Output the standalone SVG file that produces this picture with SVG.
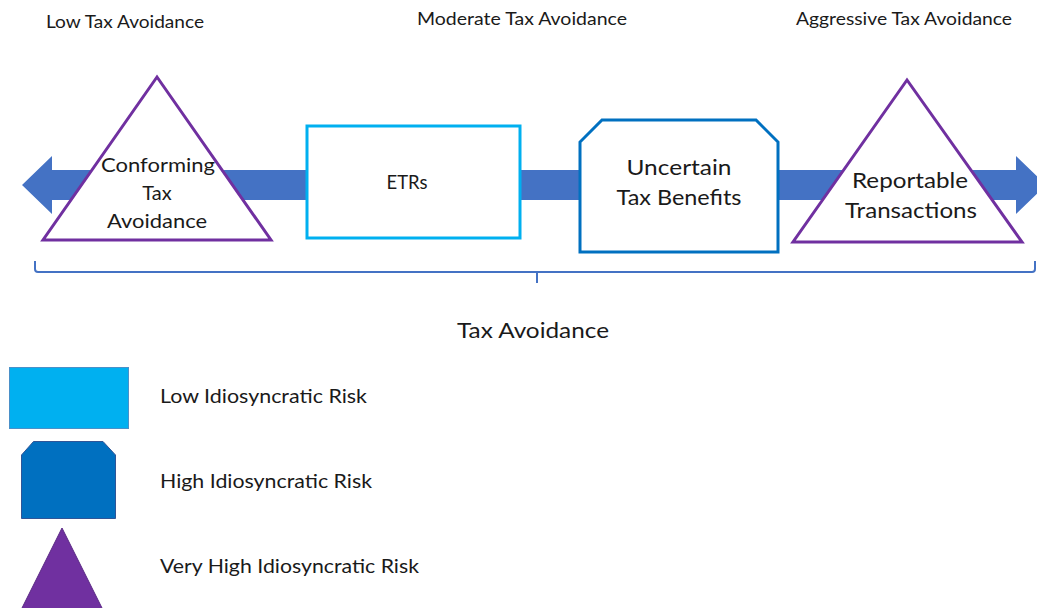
<svg xmlns="http://www.w3.org/2000/svg" width="1037" height="608" viewBox="0 0 1037 608">
  <style>
    text { font-family: Lato, "Open Sans", "Liberation Sans", sans-serif; fill: #1a1a1a; }
    .mid { text-anchor: middle; }
    .hdr { font-size: 17px; }
    .node { font-size: 20px; }
    .big { font-size: 22px; }
    .leg { font-size: 20px; }
    .tri { fill: #ffffff; stroke: #7030A0; stroke-width: 3; stroke-linejoin: miter; }
  </style>

  <rect width="1037" height="608" fill="#ffffff"/>

  <!-- scale headings -->
  <g id="headings">
    <text class="hdr" x="46" y="28" textLength="158" lengthAdjust="spacingAndGlyphs">Low Tax Avoidance</text>
    <text class="hdr" x="417" y="25" textLength="210" lengthAdjust="spacingAndGlyphs">Moderate Tax Avoidance</text>
    <text class="hdr" x="796" y="25" textLength="216" lengthAdjust="spacingAndGlyphs">Aggressive Tax Avoidance</text>
  </g>

  <!-- double-headed axis arrow and range bracket -->
  <g id="connectors">
    <path d="M22,185 L52,156 L52,170 L1016,170 L1016,156 L1046,185 L1016,214 L1016,200 L52,200 L52,214 Z" fill="#4472C4"/>
    <path d="M35,261 V269 Q35,272 38,272 H1032 Q1035,272 1035,269 V261 M537,272 V283" fill="none" stroke="#4472C4" stroke-width="2"/>
  </g>

  <g id="conforming">
    <polygon class="tri" points="157,77 43,240 271,240"/>
    <text class="node mid" x="158" y="172" textLength="114" lengthAdjust="spacingAndGlyphs">Conforming</text>
    <text class="node mid" x="157" y="200">Tax</text>
    <text class="node mid" x="157" y="228" textLength="100" lengthAdjust="spacingAndGlyphs">Avoidance</text>
  </g>

  <g id="etrs">
    <rect x="307" y="126" width="213" height="112" fill="#ffffff" stroke="#00B0F0" stroke-width="3"/>
    <text class="node mid" x="407" y="189" textLength="41" lengthAdjust="spacingAndGlyphs">ETRs</text>
  </g>

  <g id="uncertain">
    <path d="M602,120 H756 L778,142 V252 H580 V142 Z" fill="#ffffff" stroke="#0070C0" stroke-width="3" stroke-linejoin="miter"/>
    <text class="big mid" x="679" y="175" textLength="105" lengthAdjust="spacingAndGlyphs">Uncertain</text>
    <text class="big mid" x="679" y="205" textLength="125" lengthAdjust="spacingAndGlyphs">Tax Benefits</text>
  </g>

  <g id="reportable">
    <polygon class="tri" points="907,80 793,242 1022,242"/>
    <text class="big mid" x="910" y="188" textLength="116" lengthAdjust="spacingAndGlyphs">Reportable</text>
    <text class="big mid" x="911" y="218" textLength="132" lengthAdjust="spacingAndGlyphs">Transactions</text>
  </g>

  <g id="axis-label">
    <text class="big mid" x="533" y="338" textLength="152" lengthAdjust="spacingAndGlyphs">Tax Avoidance</text>
  </g>

  <!-- legend -->
  <g id="legend-low">
    <rect x="9.5" y="367.5" width="119" height="61" fill="#00B0F0" stroke="#4A90C8" stroke-width="1"/>
    <text class="leg" x="160" y="403" textLength="207" lengthAdjust="spacingAndGlyphs">Low Idiosyncratic Risk</text>
  </g>
  <g id="legend-high">
    <path d="M33.5,441.5 H103 L115.5,455 V518.5 H21.5 V455 Z" fill="#0070C0" stroke="#2F5597" stroke-width="1"/>
    <text class="leg" x="160" y="488" textLength="212" lengthAdjust="spacingAndGlyphs">High Idiosyncratic Risk</text>
  </g>
  <g id="legend-veryhigh">
    <polygon points="62,528 16,620 108,620" fill="#7030A0" stroke="#5B2A85" stroke-width="1"/>
    <text class="leg" x="160" y="573" textLength="259" lengthAdjust="spacingAndGlyphs">Very High Idiosyncratic Risk</text>
  </g>
</svg>
